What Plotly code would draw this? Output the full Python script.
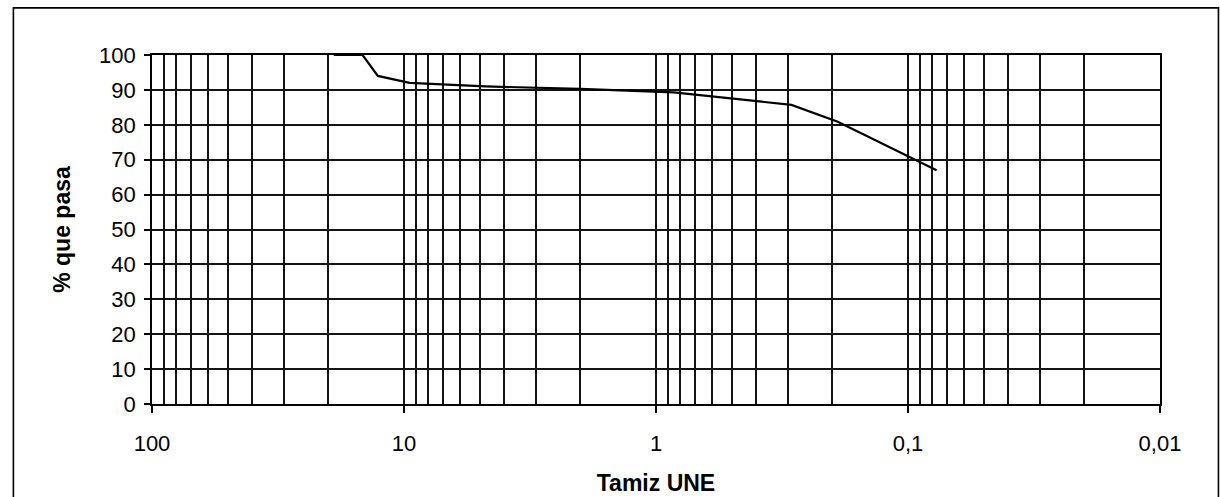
import plotly.graph_objects as go

# Granulometric curve: sieve opening (mm) vs. percentage passing
tamiz_mm = [19.0, 14.6, 12.7, 9.5, 4.75, 2.0, 0.85, 0.42, 0.29, 0.19, 0.077]
pasa_pct = [100, 100, 94.0, 92.0, 91.0, 90.3, 89.3, 87.0, 85.7, 80.9, 67.0]

x_ticks = [100, 10, 1, 0.1, 0.01]
x_ticklabels = ["100", "10", "1", "0,1", "0,01"]
y_ticks = list(range(0, 101, 10))

FONT = "Liberation Sans, Arial, sans-serif"
GRID = "#141414"

fig = go.Figure()
fig.add_trace(go.Scatter(
    x=tamiz_mm, y=pasa_pct, mode="lines",
    line=dict(color="black", width=2.2),
    showlegend=False, hoverinfo="skip",
))

fig.update_xaxes(
    type="log", range=[2, -2],
    tickvals=x_ticks, ticktext=x_ticklabels,
    ticks="outside", ticklen=7, tickcolor="black", tickwidth=1.5,
    ticklabelstandoff=12,
    showgrid=True, gridcolor=GRID, gridwidth=1.6,
    minor=dict(dtick="D1", showgrid=True, gridcolor=GRID, gridwidth=1.6, ticks=""),
    showline=True, linecolor="black", linewidth=1.6, mirror=True,
    tickfont=dict(family=FONT, size=22, color="black"),
    title=dict(text="<b>Tamiz UNE</b>", font=dict(family=FONT, size=23, color="black"), standoff=20),
    zeroline=False, automargin=False,
)
fig.update_yaxes(
    range=[0, 100], tickvals=y_ticks,
    ticks="outside", ticklen=6, tickcolor="black", tickwidth=1.5,
    ticklabelstandoff=4,
    showgrid=True, gridcolor=GRID, gridwidth=1.6,
    showline=True, linecolor="black", linewidth=1.6, mirror=True,
    tickfont=dict(family=FONT, size=22, color="black"),
    title=dict(text="<b>% que pasa</b>", font=dict(family=FONT, size=23, color="black"), standoff=22),
    zeroline=False, automargin=False,
)

# Outer frame around the whole chart
fig.add_shape(type="rect", xref="paper", yref="paper",
              x0=-0.1375, x1=1.058, y0=-0.3, y1=1.135,
              line=dict(color="black", width=1.6), fillcolor="rgba(0,0,0,0)")

fig.update_layout(
    width=1220, height=497,
    margin=dict(l=152, r=60, t=55, b=93),
    paper_bgcolor="white", plot_bgcolor="white",
    font=dict(family=FONT, color="black"),
)

fig.write_html("out.html")
